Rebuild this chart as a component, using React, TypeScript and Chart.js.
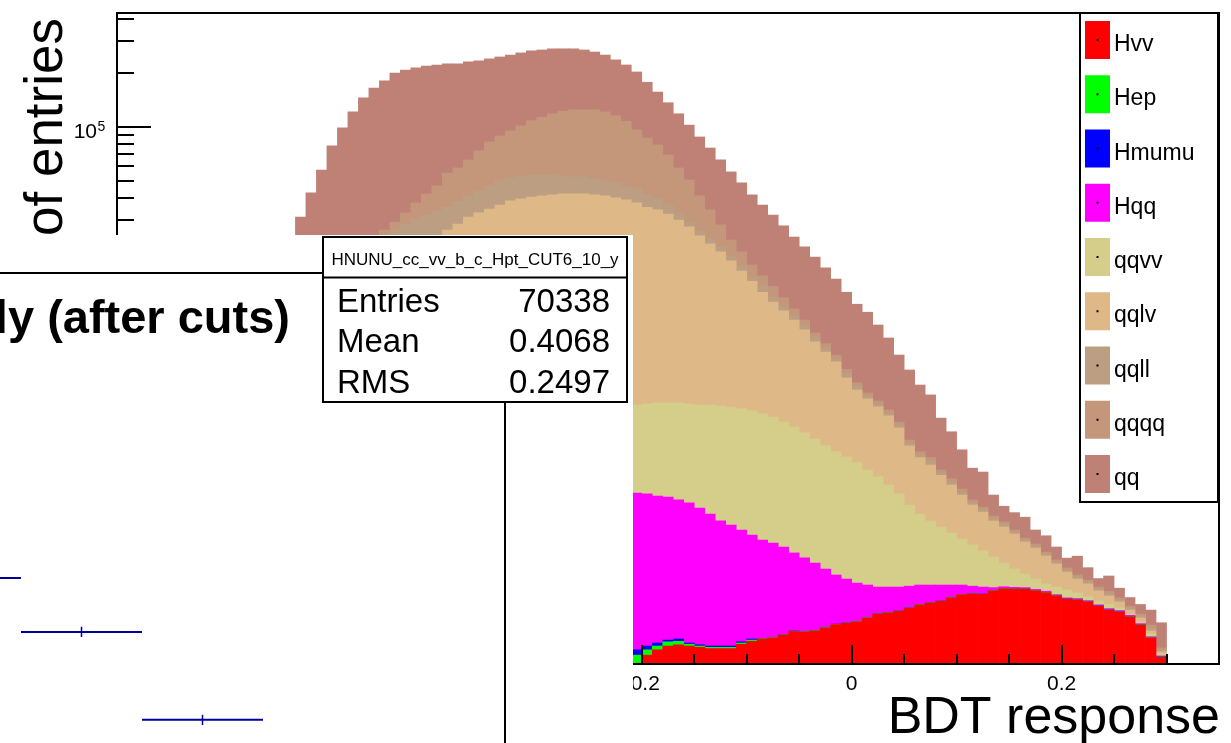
import React, { useEffect, useRef } from "react";
import { Chart, registerables } from "chart.js";

Chart.register(...registerables);

const FONT = '"Liberation Sans", Arial, Helvetica, sans-serif';

// ---------------- main stacked histogram (BDT response) ----------------
const BIN_CENTERS = [
  -0.695, -0.685, -0.675, -0.665, -0.655, -0.645, -0.635, -0.625, -0.615, -0.605,
  -0.595, -0.585, -0.575, -0.565, -0.555, -0.545, -0.535, -0.525, -0.515, -0.505,
  -0.495, -0.485, -0.475, -0.465, -0.455, -0.445, -0.435, -0.425, -0.415, -0.405,
  -0.395, -0.385, -0.375, -0.365, -0.355, -0.345, -0.335, -0.325, -0.315, -0.305,
  -0.295, -0.285, -0.275, -0.265, -0.255, -0.245, -0.235, -0.225, -0.215, -0.205,
  -0.195, -0.185, -0.175, -0.165, -0.155, -0.145, -0.135, -0.125, -0.115, -0.105,
  -0.095, -0.085, -0.075, -0.065, -0.055, -0.045, -0.035, -0.025, -0.015, -0.005,
  0.005, 0.015, 0.025, 0.035, 0.045, 0.055, 0.065, 0.075, 0.085, 0.095,
  0.105, 0.115, 0.125, 0.135, 0.145, 0.155, 0.165, 0.175, 0.185, 0.195,
  0.205, 0.215, 0.225, 0.235, 0.245, 0.255, 0.265, 0.275, 0.285, 0.295,
  0.305, 0.315, 0.325, 0.335, 0.345,
];

const HVV = [
  5, 6, 8, 9, 11, 12, 14, 16, 18, 20, 22, 24, 26, 28, 30, 32, 34,
  35, 37, 38, 40, 42, 44, 45, 47, 50, 52, 54, 56, 58, 60, 62, 64, 66, 68, 70, 72, 74, 77, 79, 81, 83, 86, 88, 90, 92, 95, 97, 99,
  101, 112, 120, 126, 128, 126, 124, 122, 122, 122, 129, 134, 138, 140, 145, 152, 151, 153, 159, 166,
  169, 172, 181, 190, 193, 197, 205, 214, 219, 224, 234, 244, 246, 245, 256, 263, 262, 262, 256, 250,
  240, 230, 228, 222, 210, 200, 195, 183, 165, 140, 109,
  null, null, null, null, null,
];

const HEP = [
  1, 1, 2, 2, 3, 3, 4, 4, 5, 5, 6, 7, 8, 8, 9, 10, 11,
  12, 12, 12, 12, 12, 12, 12, 12, 12, 12, 12, 12, 12, 12, 12, 12, 12, 12, 12, 12, 12, 12, 12, 12, 12, 12, 12, 12, 12, 12, 12, 12,
  11, 8, 6, 7, 6, 3, 2, 2, 2, 2, 2, 2,
  0.5, 0.5, 0.5, 0.5, 0.5, 0.5, 0.5, 0.5, 0.5, 0.5, 0.5, 0.5, 0.5, 0.5, 0.5, 0.5, 0.5, 0.5, 0.5, 0.5,
  0.5, 0.5, 0.5, 0.5, 0.5, 0.5, 0.5, 0.5, 0.5, 0.5, 0.5, 0.5, 0.5, 0.5, 0.5, 0.5, 0.5, 0.5, 0.5,
  null, null, null, null, null,
];

const HMUMU = [
  1, 1, 1, 2, 2, 2, 3, 3, 3, 4, 4, 5, 5, 6, 6, 7, 7,
  8, 8, 8, 8, 8, 8, 8, 8, 8, 8, 8, 8, 8, 8, 8, 8, 8, 8, 8, 8, 8, 8, 8, 8, 8, 8, 8, 8, 8, 8, 8, 8,
  8, 6, 5, 3, 4, 2, 2, 2, 2, 2, 2, 2,
  0.5, 0.5, 0.5, 0.5, 0.5, 0.5, 0.5, 0.5, 0.5, 0.5, 0.5, 0.5, 0.5, 0.5, 0.5, 0.5, 0.5, 0.5, 0.5, 0.5,
  0.5, 0.5, 0.5, 0.5, 0.5, 0.5, 0.5, 0.5, 0.5, 0.5, 0.5, 0.5, 0.5, 0.5, 0.5, 0.5, 0.5, 0.5, 0.5,
  null, null, null, null, null,
];

const HQQ = [
  10, 14, 18, 24, 30, 38, 46, 56, 66, 78, 90, 105, 120, 135, 150, 160, 170,
  180, 200, 220, 240, 265, 290, 315, 340, 365, 390, 415, 440, 465, 490, 515, 540, 560, 580, 600, 620, 640, 660, 680, 695, 710, 725, 740, 750, 760, 768, 775, 780,
  781, 764, 736, 720, 686, 662, 615, 562, 503, 471, 427, 387, 353, 333, 304, 264, 239, 212, 179, 147,
  128, 110, 94, 78, 75, 71, 66, 61, 56, 51, 41, 31, 25, 23, 10, 6, 5, 4, 4, 4,
  3, 3, 3, 3, 3, 3, 3, 3, 2, 1, 1,
  null, null, null, null, null,
];

const QQVV = [
  30, 40, 55, 70, 90, 110, 135, 165, 200, 240, 285, 335, 390, 440, 490, 540, 570,
  600, 650, 700, 750, 800, 850, 900, 950, 1000, 1050, 1100, 1150, 1200, 1250, 1300, 1350, 1400, 1450, 1500, 1550, 1590, 1630, 1670, 1700, 1730, 1760, 1790, 1810, 1830, 1850, 1865, 1880,
  1889, 1940, 2003, 2014, 2046, 2037, 2047, 2102, 2121, 2123, 2100, 2065, 1998, 1916, 1790, 1683, 1559, 1434, 1311, 1216,
  1132, 1047, 934, 841, 730, 621, 500, 412, 353, 306, 263, 222, 190, 159, 129, 96, 71, 51, 37, 25,
  25, 25, 17, 11, 11, 12, 6, 3, 4, 5, 3,
  null, null, null, null, null,
];

const QQLV = [
  40, 60, 85, 120, 170, 230, 310, 410, 540, 700, 900, 1150, 1450, 1800, 2200, 2600, 3000,
  2970, 3790, 4820, 5950, 7270, 8800, 10520, 12440, 14370, 16290, 17910, 19330, 20460, 21680, 24600, 26630,
  29250, 30880, 32510, 34240, 36180, 37110, 38050, 38600, 39060, 39510, 39460, 39430, 38900, 38370, 37240, 36220,
  34710, 32570, 31430, 29630, 27230, 24770, 21810, 19410, 17250, 15080, 12940, 11110, 9410, 8110, 7120, 6230, 5380, 4480, 3860, 3330,
  2530, 2060, 1810, 1620, 1431, 1190, 878, 732, 661, 548, 460, 380, 310, 277, 233, 216, 193, 162, 146, 121,
  93, 67, 49, 43, 31, 24, 17, 10, 9, 6, 3,
  null, null, null, null, null,
];

const QQLL = [
  10, 15, 20, 30, 40, 55, 75, 100, 135, 180, 240, 320, 420, 550, 720, 900, 1000,
  1200, 1600, 2000, 2500, 3100, 4000, 5200, 6700, 8100, 8700, 9100, 9500, 9900, 10300, 8900, 9900,
  9800, 10700, 12000, 13300, 13300, 13600, 13300, 12700, 12200, 11000, 10300, 10300, 9500, 8700, 8500, 7700,
  7400, 6200, 5200, 4000, 2900, 1700, 1600, 1400, 1300, 1200, 1100, 800, 900, 600, 500, 440, 380, 330, 300, 190,
  260, 180, 120, 100, 90, 80, 60, 50, 70, 40, 41, 33, 30, 28, 25, 23, 14, 12, 12, 10,
  9, 9, 8, 7, 6, 6, 6, 5, 4, 6, 3,
  null, null, null, null, null,
];

const QQQQ = [
  20, 30, 45, 65, 90, 120, 165, 220, 300, 400, 530, 700, 920, 1200, 1550, 1900, 2200,
  2000, 2700, 3200, 4000, 4500, 5000, 4500, 3500, 2600, 2800, 4400, 7000, 10000, 12900, 19600, 20300,
  24100, 29500, 35500, 39000, 42900, 47900, 54200, 59200, 64200, 68900, 71600, 71600, 72900, 71200, 66500, 60300,
  51000, 44900, 39600, 33000, 25800, 21100, 14900, 10700, 7000, 4300, 3300, 2400, 1900, 1700, 1240, 830, 620, 440, 330, 250,
  200, 150, 120, 110, 100, 80, 70, 60, 60, 40, 40, 37, 22, 19, 16, 16, 14, 13, 12, 11,
  10, 9, 8, 7, 7, 8, 6, 5, 5, 6, 3,
  null, null, null, null, null,
];

const QQ = [
  60, 90, 130, 190, 270, 380, 530, 730, 1000, 1380, 1900, 2600, 3500, 4700, 6300, 8800, 12000,
  24300, 33700, 46300, 64600, 82400, 102000, 123500, 140000, 153500, 169700, 174000, 175500, 175900, 174300, 169000, 165200,
  164800, 159800, 156800, 156200, 156300, 157000, 157000, 155000, 154000, 150000, 148000, 144000, 137000, 130000, 121000, 114000,
  106100, 90500, 76900, 66500, 59200, 51600, 46500, 41700, 36900, 32600, 28500, 24700, 21800, 19300, 16800, 14600, 12970, 11650, 10160, 8800,
  7480, 6480, 5940, 4870, 3990, 3070, 2600, 2080, 1760, 1150, 900, 622, 416, 428, 208, 139, 140, 155, 92, 98,
  69, 46, 86, 51, 31, 56, 31, 25, 25, 35, 47,
  null, null, null, null, null,
];

const SERIES_NAMES = ["Hvv", "Hep", "Hmumu", "Hqq", "qqvv", "qqlv", "qqll", "qqqq", "qq"];
const SERIES_VALUES = [HVV, HEP, HMUMU, HQQ, QQVV, QQLV, QQLL, QQQQ, QQ];
const SERIES_COLORS = ["#ff0000", "#00ff00", "#0000ff", "#ff00ff", "#d4ce8a", "#deb887", "#bc9e82", "#c4977a", "#bf8076"];

const X_MIN = -0.7;
const X_MAX = 0.35;
const Y_MIN = 100;
const Y_MAX = 431000;
const X_TICK_VALUES = [-0.6, -0.4, -0.2, 0, 0.2];
const X_TICK_LABELS = ["-0.6", "-0.4", "-0.2", "0", "0.2"];
const Y_DECADES = [100, 1000, 10000, 100000];
const Y_DECADE_EXPONENTS = ["2", "3", "4", "5"];
const X_TITLE = "BDT response";
const Y_TITLE = "Number of entries";

// ---------------- overlapping panel (y distribution) ----------------
const Y_BIN_CENTERS = [-0.125, 0.125, 0.375, 0.625, 0.875];
const Y_BIN_HALF = 0.125;
const Y_VALUES = [0.525, 0.441, 0.304, 0.18, 0.08];
const Y_ERRORS = [0.008, 0.008, 0.008, 0.007, 0.005];
const PANEL_TITLE = "ly (after cuts)";
const STATS_NAME = "HNUNU_cc_vv_b_c_Hpt_CUT6_10_y";
const STATS_LABELS = ["Entries", "Mean", "RMS"];
const STATS_VALUES = ["70338", "0.4068", "0.2497"];

const mainDecor = {
  id: "mainDecor",
  afterDraw(chart: any) {
    const ctx: CanvasRenderingContext2D = chart.ctx;
    const { left, right, top, bottom } = chart.chartArea;
    const xs = chart.scales.x;
    const ys = chart.scales.y;
    ctx.save();
    ctx.strokeStyle = "#000";
    ctx.fillStyle = "#000";
    ctx.lineWidth = 2;
    // frame
    ctx.strokeRect(left, top, right - left, bottom - top);

    // x ticks (inside)
    ctx.beginPath();
    for (let k = 0; k <= 21; k++) {
      const v = X_MIN + k * 0.05;
      const px = Math.round(xs.getPixelForValue(v));
      const isMajor = X_TICK_VALUES.some((t) => Math.abs(t - v) < 1e-6);
      const len = isMajor ? 19 : 10;
      ctx.moveTo(px, bottom);
      ctx.lineTo(px, bottom - len);
    }
    ctx.stroke();
    ctx.font = `21px ${FONT}`;
    ctx.textAlign = "center";
    ctx.textBaseline = "alphabetic";
    X_TICK_VALUES.forEach((v, i) => {
      ctx.fillText(X_TICK_LABELS[i], xs.getPixelForValue(v), bottom + 26);
    });

    // y ticks (log, inside)
    ctx.beginPath();
    for (const dec of Y_DECADES) {
      for (let m = 1; m <= 9; m++) {
        const v = dec * m;
        if (v < ys.min || v > ys.max) continue;
        const py = Math.round(ys.getPixelForValue(v));
        const len = m === 1 ? 34 : 17;
        ctx.moveTo(left, py);
        ctx.lineTo(left + len, py);
      }
    }
    ctx.stroke();
    Y_DECADES.forEach((dec, i) => {
      const py = ys.getPixelForValue(dec);
      ctx.font = `21px ${FONT}`;
      ctx.textAlign = "right";
      ctx.fillText("10", left - 20, py + 11);
      ctx.font = `14px ${FONT}`;
      ctx.textAlign = "left";
      ctx.fillText(Y_DECADE_EXPONENTS[i], left - 19.5, py + 4);
    });

    // axis titles
    ctx.font = `52px ${FONT}`;
    ctx.textAlign = "right";
    ctx.fillText(X_TITLE, 1220, 733);
    ctx.save();
    ctx.translate(62, 18);
    ctx.rotate(-Math.PI / 2);
    ctx.font = `53px ${FONT}`;
    ctx.textAlign = "right";
    ctx.fillText(Y_TITLE, 0, 0);
    ctx.restore();

    // legend box
    const lx = 1080, ly = 13, lw = 138, lh = 489;
    ctx.fillStyle = "#fff";
    ctx.fillRect(lx, ly, lw, lh);
    ctx.strokeStyle = "#000";
    ctx.lineWidth = 2;
    ctx.strokeRect(lx, ly, lw, lh);
    ctx.font = `23px ${FONT}`;
    ctx.textAlign = "left";
    chart.data.datasets.forEach((ds: any, k: number) => {
      const cy = 40 + k * 54.25;
      ctx.fillStyle = ds.backgroundColor;
      ctx.fillRect(1085, cy - 19, 25, 38);
      ctx.fillStyle = "#000";
      ctx.fillRect(1096.5, cy - 1, 2, 2);
      ctx.fillText(ds.label, 1114, cy + 11);
    });
    ctx.restore();
  },
};

const panelDecor = {
  id: "panelDecor",
  afterDraw(chart: any) {
    const ctx: CanvasRenderingContext2D = chart.ctx;
    const { right, top, bottom } = chart.chartArea;
    ctx.save();
    ctx.strokeStyle = "#000";
    ctx.lineWidth = 2;
    ctx.beginPath();
    ctx.moveTo(0, top);
    ctx.lineTo(right, top);
    ctx.moveTo(right, top);
    ctx.lineTo(right, bottom);
    ctx.stroke();

    // title
    ctx.fillStyle = "#000";
    ctx.font = `bold 47px ${FONT}`;
    ctx.textAlign = "right";
    ctx.textBaseline = "alphabetic";
    ctx.fillText(PANEL_TITLE, 290, 98);

    // stats box
    const bx = 323, by = 2, bw = 304, bh = 165;
    ctx.fillStyle = "#fff";
    ctx.fillRect(bx, by, bw, bh);
    ctx.strokeRect(bx, by, bw, bh);
    ctx.beginPath();
    ctx.moveTo(bx, 42.5);
    ctx.lineTo(bx + bw, 42.5);
    ctx.stroke();
    ctx.fillStyle = "#000";
    ctx.font = `17px ${FONT}`;
    ctx.textAlign = "center";
    ctx.fillText(STATS_NAME, bx + bw / 2, 30);
    ctx.font = `33px ${FONT}`;
    const rows = [77, 117, 158];
    STATS_LABELS.forEach((lab, i) => {
      ctx.textAlign = "left";
      ctx.fillText(lab, 337, rows[i]);
      ctx.textAlign = "right";
      ctx.fillText(STATS_VALUES[i], 610, rows[i]);
    });
    ctx.restore();
  },
};

export default function App() {
  const mainRef = useRef<HTMLCanvasElement>(null);
  const panelRef = useRef<HTMLCanvasElement>(null);

  useEffect(() => {
    document.body.style.margin = "0";
    const datasets = SERIES_NAMES.map((name, k) => ({
      label: name,
      data: BIN_CENTERS.map((x, i) => ({ x, y: SERIES_VALUES[k][i] })),
      backgroundColor: SERIES_COLORS[k],
      borderWidth: 0,
      barPercentage: 1,
      categoryPercentage: 1,
    }));
    const main = new Chart(mainRef.current!, {
      type: "bar",
      data: { datasets } as any,
      options: {
        responsive: false,
        animation: false,
        devicePixelRatio: 1,
        layout: { padding: { left: 117, top: 13, right: 12, bottom: 79 } },
        plugins: { legend: { display: false }, tooltip: { enabled: false }, title: { display: false } },
        scales: {
          x: { type: "linear", min: X_MIN, max: X_MAX, stacked: true, offset: false, display: false },
          y: { type: "logarithmic", min: Y_MIN, max: Y_MAX, stacked: true, display: false },
        },
      } as any,
      plugins: [mainDecor],
    });

    const segs: any[] = [];
    const errs: any[] = [];
    Y_BIN_CENTERS.forEach((c, i) => {
      segs.push({ x: c - Y_BIN_HALF, y: Y_VALUES[i] }, { x: c + Y_BIN_HALF, y: Y_VALUES[i] }, { x: c + Y_BIN_HALF, y: null });
      errs.push({ x: c, y: Y_VALUES[i] - Y_ERRORS[i] }, { x: c, y: Y_VALUES[i] + Y_ERRORS[i] }, { x: c, y: null });
    });
    const panel = new Chart(panelRef.current!, {
      type: "line",
      data: {
        datasets: [
          { label: "y", data: segs, borderColor: "#000099", borderWidth: 2, pointRadius: 0, spanGaps: false, tension: 0 },
          { label: "yerr", data: errs, borderColor: "#000099", borderWidth: 1.5, pointRadius: 0, spanGaps: false, tension: 0 },
        ],
      } as any,
      options: {
        responsive: false,
        animation: false,
        devicePixelRatio: 1,
        layout: { padding: { left: 0, top: 38, right: 128, bottom: 20 } },
        plugins: { legend: { display: false }, tooltip: { enabled: false } },
        scales: {
          x: { type: "linear", min: -0.0434, max: 1.0, display: false },
          y: { type: "linear", min: 0, max: 1, display: false },
        },
      } as any,
      plugins: [panelDecor],
    });

    return () => {
      main.destroy();
      panel.destroy();
    };
  }, []);

  return (
    <div style={{ position: "fixed", left: 0, top: 0, width: 1231, height: 743, overflow: "hidden", background: "#fff" }}>
      <canvas ref={mainRef} width={1231} height={743} style={{ position: "absolute", left: 0, top: 0 }} />
      <div style={{ position: "absolute", left: 0, top: 235, width: 633, height: 508, overflow: "hidden", background: "#fff" }}>
        <canvas ref={panelRef} width={633} height={700} style={{ position: "absolute", left: 0, top: 0 }} />
      </div>
    </div>
  );
}
